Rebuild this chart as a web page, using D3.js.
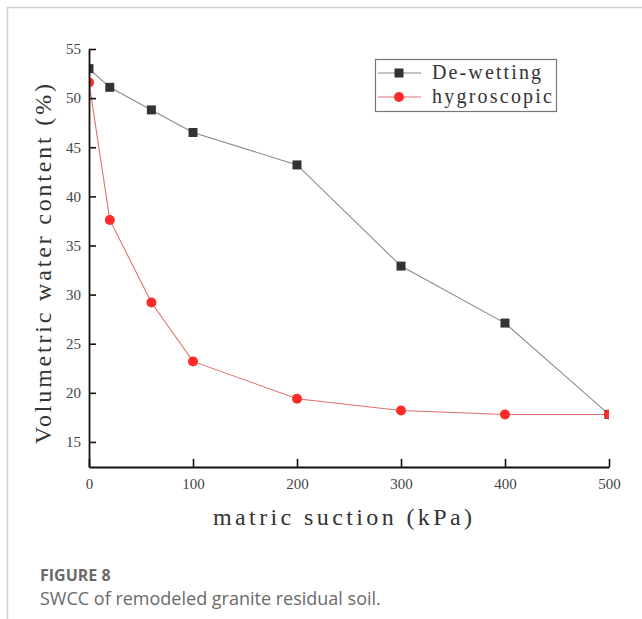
<!DOCTYPE html>
<html>
<head>
<meta charset="utf-8">
<script src="https://cdn.jsdelivr.net/npm/d3@7"></script>
<style>
  body { margin: 0; background: #fff; }
  svg { display: block; }
</style>
</head>
<body>
<svg id="chart"></svg>
<script>
const width = 642;
const height = 619;

// data
const suction = [0, 20, 60, 100, 200, 300, 400, 500];
const dewetting = [53.0, 51.1, 48.8, 46.5, 43.2, 32.9, 27.1, 17.8];
const hygroscopic = [51.6, 37.6, 29.2, 23.2, 19.4, 18.2, 17.8, 17.8];
const xTicks = [0, 100, 200, 300, 400, 500];
const yTicks = [15, 20, 25, 30, 35, 40, 45, 50, 55];

const plot = { left: 89, right: 609, top: 49, bottom: 467 };

const svg = d3.select('#chart')
  .attr('width', width)
  .attr('height', height);

// page frame lines
svg.append('line')
  .attr('x1', 7).attr('x2', width).attr('y1', 7.5).attr('y2', 7.5)
  .style('stroke', '#d0d0d0').style('stroke-width', 1.5);
svg.append('line')
  .attr('x1', 7.5).attr('x2', 7.5).attr('y1', 7).attr('y2', height)
  .style('stroke', '#d0d0d0').style('stroke-width', 1.5);

const x = d3.scaleLinear().domain([0, 500]).range([plot.left, plot.right]);
const y = d3.scaleLinear().domain([12.45, 55]).range([plot.bottom, plot.top]);

svg.append('clipPath').attr('id', 'plotClip')
  .append('rect')
  .attr('x', plot.left).attr('y', plot.top - 10)
  .attr('width', plot.right - plot.left).attr('height', plot.bottom - plot.top + 10);

const g = svg.append('g').attr('clip-path', 'url(#plotClip)');

const line = d3.line()
  .x(function (d, i) { return x(suction[i]); })
  .y(function (d) { return y(d); });

g.append('path')
  .attr('d', line(dewetting))
  .style('fill', 'none')
  .style('stroke', '#8a8a8a')
  .style('stroke-width', 1.1);

g.append('path')
  .attr('d', line(hygroscopic))
  .style('fill', 'none')
  .style('stroke', '#e07070')
  .style('stroke-width', 1.1);

g.selectAll('rect.sq')
  .data(dewetting)
  .enter()
  .append('rect')
  .attr('class', 'sq')
  .attr('x', function (d, i) { return x(suction[i]) - 4.5; })
  .attr('y', function (d) { return y(d) - 4.5; })
  .attr('width', 9)
  .attr('height', 9)
  .style('fill', '#333');

g.selectAll('circle.dot')
  .data(hygroscopic)
  .enter()
  .append('circle')
  .attr('class', 'dot')
  .attr('cx', function (d, i) { return x(suction[i]); })
  .attr('cy', function (d) { return y(d); })
  .attr('r', 5)
  .style('fill', '#ff2a2a');

// axes, ticks point inward
const xAxis = svg.append('g')
  .attr('transform', 'translate(0,' + plot.bottom + ')')
  .call(d3.axisBottom(x).tickValues(xTicks).tickSize(-8).tickSizeOuter(0).tickPadding(11));

const yAxis = svg.append('g')
  .attr('transform', 'translate(' + plot.left + ',0)')
  .call(d3.axisLeft(y).tickValues(yTicks).tickSize(-7).tickSizeOuter(0).tickPadding(8));

[xAxis, yAxis].forEach(function (a) {
  a.select('.domain').style('stroke', '#111').style('stroke-width', 1.8);
  a.selectAll('.tick line').style('stroke', '#111').style('stroke-width', 1.6);
  a.selectAll('.tick text')
    .style('font-family', '"Liberation Serif", serif')
    .style('font-size', '15px')
    .style('fill', '#444');
});

// axis titles
svg.append('text')
  .attr('x', 213)
  .attr('y', 525)
  .attr('textLength', 259)
  .attr('lengthAdjust', 'spacing')
  .style('font-family', '"Liberation Serif", serif')
  .style('font-size', '24px')
  .style('fill', '#333')
  .text('matric suction (kPa)');

svg.append('text')
  .attr('transform', 'translate(51,444) rotate(-90)')
  .attr('textLength', 360)
  .attr('lengthAdjust', 'spacing')
  .style('font-family', '"Liberation Serif", serif')
  .style('font-size', '24px')
  .style('fill', '#333')
  .text('Volumetric water content (%)');

// legend
const legend = svg.append('g');
legend.append('rect')
  .attr('x', 375.5).attr('y', 59.5)
  .attr('width', 181).attr('height', 52)
  .style('fill', '#fff')
  .style('stroke', '#777')
  .style('stroke-width', 1.2);

const legendItems = ['De-wetting', 'hygroscopic'];
const legendLen = [109, 120];
const legendColor = ['#8a8a8a', '#e07070'];

legendItems.forEach(function (name, i) {
  const ly = 73 + i * 24;
  legend.append('line')
    .attr('x1', 378).attr('x2', 421).attr('y1', ly).attr('y2', ly)
    .style('stroke', legendColor[i]).style('stroke-width', 1.1);
  if (i === 0) {
    legend.append('rect')
      .attr('x', 399 - 4.5).attr('y', ly - 4.5)
      .attr('width', 9).attr('height', 9)
      .style('fill', '#333');
  } else {
    legend.append('circle')
      .attr('cx', 399).attr('cy', ly).attr('r', 5)
      .style('fill', '#ff2a2a');
  }
  legend.append('text')
    .attr('x', 432)
    .attr('y', ly + 6)
    .attr('textLength', legendLen[i])
    .attr('lengthAdjust', 'spacing')
    .style('font-family', '"Liberation Serif", serif')
    .style('font-size', '20px')
    .style('fill', '#333')
    .text(name);
});

// caption
svg.append('text')
  .attr('x', 40).attr('y', 581)
  .style('font-family', '"Open Sans", sans-serif')
  .style('font-weight', 'bold')
  .style('font-size', '16px')
  .style('fill', '#6a6a6a')
  .text('FIGURE 8');

svg.append('text')
  .attr('x', 40).attr('y', 605)
  .style('font-family', '"Open Sans", sans-serif')
  .style('font-size', '18px')
  .style('fill', '#6a6a6a')
  .text('SWCC of remodeled granite residual soil.');
</script>
</body>
</html>
